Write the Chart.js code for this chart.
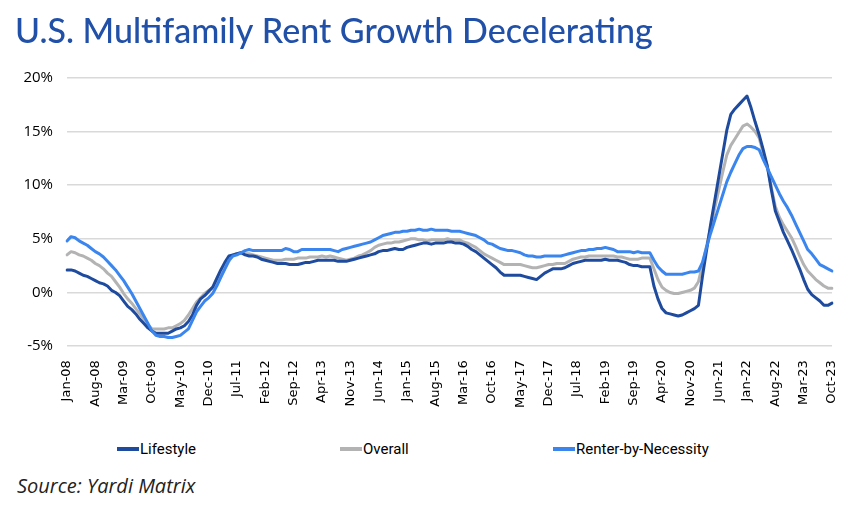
<!DOCTYPE html>
<html>
<head>
<meta charset="utf-8">
<script src="https://cdn.jsdelivr.net/npm/chart.js@4"></script>
<style>
  html, body { margin: 0; padding: 0; background: #fff; }
  #wrap { position: relative; width: 858px; height: 508px; }
  #chartBox { position: absolute; left: 0; top: 0; width: 858px; height: 414px; }
  #legend { position: absolute; left: 0; top: 438px; width: 858px; height: 24px;
            font-family: 'Liberation Sans Narrow', 'Roboto', sans-serif; font-size: 15px; color: #000; }
  #legend .item { position: absolute; top: 0; display: flex; align-items: center; height: 22px; }
  #legend .swatch { width: 22px; height: 4px; margin-right: 1px; }
  #source { position: absolute; left: 17px; top: 472px;
            font-family: 'Open Sans', sans-serif; font-style: italic; font-size: 20px; color: #222; }
</style>
</head>
<body>
<div id="wrap">
  <div id="chartBox"><canvas id="rentChart"></canvas></div>
  <div id="legend"></div>
  <div id="source">Source: Yardi Matrix</div>
</div>
<script>
// monthly year-over-year rent growth, Jan-08 .. Oct-23 (%)
const MONTHS = ['Jan', 'Feb', 'Mar', 'Apr', 'May', 'Jun', 'Jul', 'Aug', 'Sep', 'Oct', 'Nov', 'Dec'];
const START_YEAR = 2008;
const TICK_EVERY = 7;

const lifestyle = [
    2.1, 2.1, 2.0, 1.8, 1.6, 1.5, 1.3, 1.1, 0.9, 0.8, 0.6, 0.2,
    0.0, -0.3, -0.8, -1.3, -1.6, -2.0, -2.5, -2.9, -3.3, -3.6, -3.8, -3.8,
    -3.8, -3.8, -3.6, -3.4, -3.3, -3.1, -2.7, -2.1, -1.2, -0.6, -0.3, 0.1,
    0.5, 1.3, 2.1, 2.8, 3.4, 3.5, 3.6, 3.7, 3.5, 3.4, 3.4, 3.3,
    3.1, 3.0, 2.9, 2.8, 2.7, 2.7, 2.7, 2.6, 2.6, 2.6, 2.7, 2.8,
    2.8, 2.9, 3.0, 3.0, 3.0, 3.0, 3.0, 2.9, 2.9, 2.9, 3.0, 3.1,
    3.2, 3.3, 3.4, 3.5, 3.6, 3.8, 3.9, 3.9, 4.0, 4.1, 4.0, 4.0,
    4.2, 4.3, 4.4, 4.5, 4.6, 4.6, 4.5, 4.6, 4.6, 4.6, 4.7, 4.7,
    4.6, 4.6, 4.5, 4.3, 4.0, 3.8, 3.5, 3.2, 2.9, 2.6, 2.3, 1.9,
    1.6, 1.6, 1.6, 1.6, 1.6, 1.5, 1.4, 1.3, 1.2, 1.5, 1.8, 2.0,
    2.2, 2.2, 2.2, 2.3, 2.5, 2.7, 2.8, 2.9, 3.0, 3.0, 3.0, 3.0,
    3.0, 3.1, 3.0, 3.0, 3.0, 2.9, 2.8, 2.6, 2.5, 2.5, 2.4, 2.4,
    2.4, 0.6, -0.6, -1.5, -1.9, -2.0, -2.1, -2.2, -2.1, -1.9, -1.7, -1.5,
    -1.2, 1.5, 3.9, 6.3, 8.5, 10.7, 12.9, 15.1, 16.6, 17.1, 17.5, 17.9,
    18.3, 17.2, 15.9, 14.7, 13.3, 11.8, 9.6, 7.6, 6.6, 5.6, 4.8, 4.0,
    3.1, 2.2, 1.2, 0.3, -0.2, -0.5, -0.8, -1.2, -1.2, -1.0
];

const overall = [
    3.5, 3.8, 3.7, 3.5, 3.4, 3.2, 3.0, 2.7, 2.5, 2.2, 1.8, 1.5,
    1.0, 0.5, -0.1, -0.6, -1.0, -1.5, -2.0, -2.5, -3.0, -3.4, -3.4, -3.4,
    -3.4, -3.3, -3.3, -3.1, -2.9, -2.6, -2.1, -1.5, -0.9, -0.5, -0.1, 0.2,
    0.4, 0.8, 1.5, 2.2, 2.9, 3.5, 3.6, 3.7, 3.6, 3.6, 3.5, 3.4,
    3.3, 3.2, 3.1, 3.0, 3.0, 3.0, 3.1, 3.1, 3.1, 3.2, 3.2, 3.2,
    3.3, 3.3, 3.3, 3.4, 3.3, 3.4, 3.3, 3.2, 3.1, 3.0, 3.1, 3.2,
    3.4, 3.5, 3.7, 3.9, 4.2, 4.4, 4.5, 4.6, 4.6, 4.7, 4.7, 4.8,
    4.9, 5.0, 5.0, 4.9, 4.9, 4.8, 4.9, 4.9, 4.9, 4.9, 5.0, 4.9,
    4.9, 4.9, 4.7, 4.6, 4.4, 4.2, 3.9, 3.6, 3.4, 3.2, 3.0, 2.8,
    2.6, 2.6, 2.6, 2.6, 2.6, 2.5, 2.4, 2.3, 2.3, 2.4, 2.5, 2.6,
    2.6, 2.7, 2.7, 2.7, 2.9, 3.1, 3.2, 3.3, 3.3, 3.4, 3.4, 3.4,
    3.4, 3.4, 3.4, 3.4, 3.3, 3.3, 3.2, 3.1, 3.1, 3.1, 3.2, 3.2,
    3.2, 2.2, 1.2, 0.5, 0.2, 0.0, -0.1, -0.1, 0.0, 0.1, 0.2, 0.4,
    1.0, 2.6, 4.3, 6.0, 7.8, 9.5, 11.2, 12.8, 13.7, 14.3, 14.9, 15.5,
    15.7, 15.4, 15.0, 14.4, 13.0, 11.8, 9.8, 8.0, 7.0, 6.3, 5.7, 5.1,
    4.3, 3.4, 2.6, 2.0, 1.6, 1.2, 0.9, 0.6, 0.4, 0.4
];

const renterByNecessity = [
    4.8, 5.2, 5.1, 4.8, 4.6, 4.4, 4.1, 3.8, 3.6, 3.3, 2.9, 2.5,
    2.1, 1.6, 1.1, 0.5, -0.1, -0.8, -1.5, -2.2, -2.9, -3.6, -4.0, -4.1,
    -4.1, -4.2, -4.2, -4.1, -4.0, -3.7, -3.4, -2.6, -1.8, -1.3, -0.8, -0.5,
    -0.1, 0.6, 1.4, 2.2, 3.0, 3.4, 3.5, 3.7, 3.9, 4.0, 3.9, 3.9,
    3.9, 3.9, 3.9, 3.9, 3.9, 3.9, 4.1, 4.0, 3.8, 3.8, 4.0, 4.0,
    4.0, 4.0, 4.0, 4.0, 4.0, 4.0, 3.9, 3.8, 4.0, 4.1, 4.2, 4.3,
    4.4, 4.5, 4.6, 4.7, 4.9, 5.1, 5.3, 5.4, 5.5, 5.6, 5.6, 5.7,
    5.7, 5.8, 5.8, 5.9, 5.8, 5.8, 5.9, 5.8, 5.8, 5.8, 5.8, 5.7,
    5.7, 5.7, 5.6, 5.5, 5.4, 5.3, 5.1, 4.9, 4.6, 4.5, 4.3, 4.1,
    4.0, 3.9, 3.9, 3.8, 3.7, 3.5, 3.4, 3.4, 3.3, 3.3, 3.4, 3.4,
    3.4, 3.4, 3.4, 3.5, 3.6, 3.7, 3.8, 3.9, 3.9, 4.0, 4.0, 4.1,
    4.1, 4.2, 4.1, 4.0, 3.8, 3.8, 3.8, 3.8, 3.7, 3.8, 3.7, 3.7,
    3.7, 3.0, 2.4, 2.0, 1.7, 1.7, 1.7, 1.7, 1.7, 1.8, 1.9, 1.9,
    2.0, 2.8, 4.2, 5.5, 6.7, 7.9, 9.1, 10.3, 11.2, 12.0, 12.8, 13.4,
    13.6, 13.6, 13.5, 13.3, 12.4, 11.6, 10.8, 10.0, 9.2, 8.5, 7.9, 7.2,
    6.4, 5.6, 4.8, 4.0, 3.6, 3.1, 2.6, 2.4, 2.2, 2.0
];

const yMin = -5;
const yMax = 20;
const yStep = 5;

const series = [
    { label: 'Lifestyle', data: lifestyle, color: '#1F4B9E', order: 2 },
    { label: 'Overall', data: overall, color: '#B3B3B3', order: 3 },
    { label: 'Renter-by-Necessity', data: renterByNecessity, color: '#3A86EE', order: 1 }
];
const legendLeft = [117, 340, 553];

const categories = lifestyle.map((_, i) =>
    MONTHS[i % 12] + '-' + String((START_YEAR + Math.floor(i / 12)) % 100).padStart(2, '0'));

// legend drawn in html so the wide Excel-style spacing can be kept
const legend = document.getElementById('legend');
series.forEach((s, i) => {
    const item = document.createElement('div');
    item.className = 'item';
    item.style.left = legendLeft[i] + 'px';
    const sw = document.createElement('span');
    sw.className = 'swatch';
    sw.style.background = s.color;
    const txt = document.createElement('span');
    txt.textContent = s.label;
    item.append(sw, txt);
    legend.appendChild(item);
});

const ctx = document.getElementById('rentChart').getContext('2d');

new Chart(ctx, {
    type: 'line',
    data: {
        labels: categories,
        datasets: series.map(s => ({
            label: s.label,
            data: s.data,
            borderColor: s.color,
            backgroundColor: s.color,
            order: s.order
        }))
    },
    options: {
        responsive: true,
        maintainAspectRatio: false,
        animation: false,
        elements: {
            line: { borderWidth: 3, tension: 0, borderJoinStyle: 'round', borderCapStyle: 'round' },
            point: { radius: 0, hoverRadius: 0 }
        },
        layout: { padding: { left: 15, right: 26, top: 0, bottom: 0 } },
        scales: {
            x: {
                offset: false,
                grid: { display: false },
                border: { display: false },
                ticks: {
                    autoSkip: false,
                    maxRotation: 90,
                    minRotation: 90,
                    padding: 6,
                    color: '#000',
                    font: { family: 'DejaVu Sans', size: 13 },
                    callback: (val, i) => (i % TICK_EVERY === 0 ? categories[i] : '')
                }
            },
            y: {
                min: yMin,
                max: yMax,
                afterFit: scale => { scale.width = 52; },
                grid: { color: '#D9D9D9', lineWidth: 1.5, drawTicks: false },
                border: { display: false },
                ticks: {
                    stepSize: yStep,
                    autoSkip: false,
                    padding: 14,
                    color: '#000',
                    font: { family: 'Open Sans', size: 15 },
                    callback: v => v + '%'
                }
            }
        },
        plugins: {
            title: {
                display: true,
                text: 'U.S. Multifamily Rent Growth Decelerating',
                align: 'start',
                color: '#2150A8',
                font: { family: 'Lato', size: 34, weight: '500' },
                padding: { top: 12, bottom: 25 }
            },
            legend: { display: false },
            tooltip: { enabled: false }
        }
    }
});
</script>
</body>
</html>
